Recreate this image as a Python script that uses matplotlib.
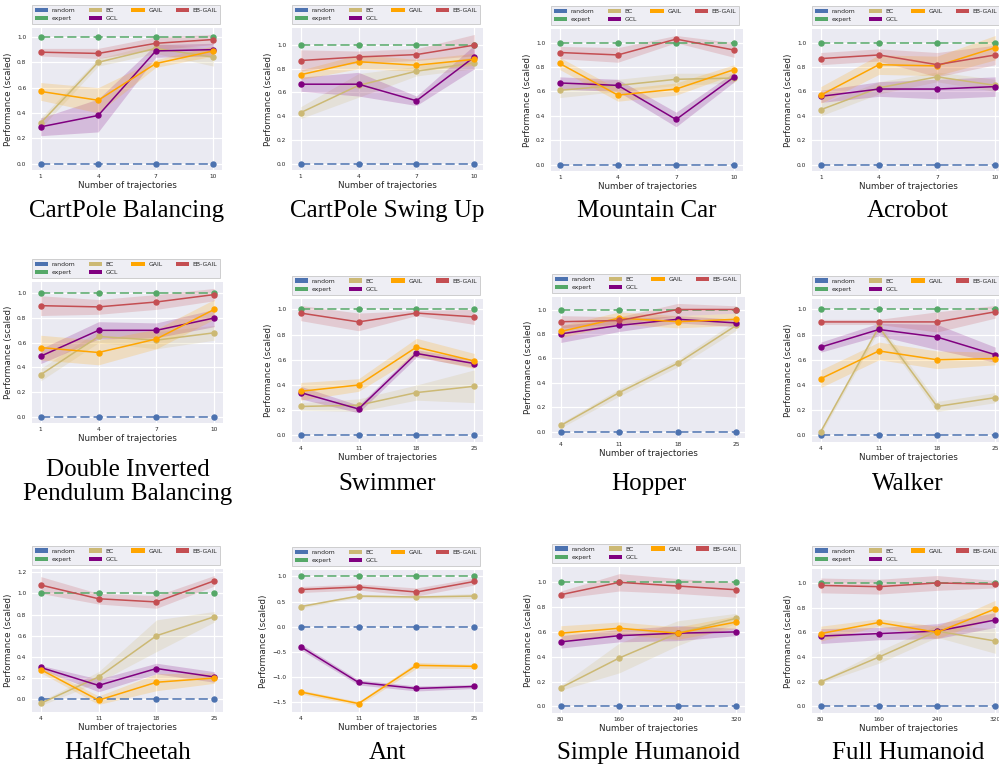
import matplotlib
matplotlib.use("Agg")
import matplotlib.pyplot as plt
from matplotlib.patches import Patch
import numpy as np

# ---------------- data ----------------
ENV_NAMES = ["CartPole Balancing", "CartPole Swing Up", "Mountain Car", "Acrobot",
             "Double Inverted\nPendulum Balancing", "Swimmer", "Hopper", "Walker",
             "HalfCheetah", "Ant", "Simple Humanoid", "Full Humanoid"]

X_CLASSIC = [1, 4, 7, 10]
X_MUJOCO = [4, 11, 18, 25]
X_HUMANOID = [80, 160, 240, 320]
X_VALUES = [X_CLASSIC] * 5 + [X_MUJOCO] * 5 + [X_HUMANOID] * 2

RANDOM_SCORE = 0.0
EXPERT_SCORE = 1.0

BC_MEAN = [[0.32, 0.80, 0.91, 0.84], [0.43, 0.66, 0.78, 0.85], [0.61, 0.65, 0.70, 0.71],
           [0.45, 0.63, 0.72, 0.65], [0.34, 0.65, 0.62, 0.68], [0.23, 0.24, 0.34, 0.39],
           [0.05, 0.32, 0.56, 0.87], [0.03, 0.86, 0.23, 0.30], [-0.04, 0.21, 0.60, 0.78],
           [0.40, 0.61, 0.59, 0.61], [0.15, 0.39, 0.59, 0.71], [0.20, 0.40, 0.61, 0.53]]
BC_ERR = [[0.04, 0.03, 0.04, 0.07], [0.05, 0.10, 0.04, 0.05], [0.06, 0.05, 0.05, 0.04],
          [0.05, 0.05, 0.04, 0.05], [0.05, 0.05, 0.07, 0.06], [0.03, 0.05, 0.06, 0.13],
          [0.02, 0.03, 0.03, 0.04], [0.02, 0.03, 0.04, 0.04], [0.02, 0.05, 0.15, 0.05],
          [0.03, 0.03, 0.03, 0.05], [0.02, 0.12, 0.10, 0.04], [0.01, 0.05, 0.05, 0.10]]

GAIL_MEAN = [[0.57, 0.50, 0.79, 0.89], [0.75, 0.86, 0.83, 0.88], [0.83, 0.57, 0.62, 0.78],
             [0.57, 0.82, 0.81, 0.96], [0.56, 0.52, 0.63, 0.87], [0.35, 0.40, 0.70, 0.59],
             [0.82, 0.93, 0.90, 0.92], [0.45, 0.67, 0.60, 0.61], [0.28, -0.01, 0.16, 0.20],
             [-1.30, -1.53, -0.77, -0.79], [0.59, 0.63, 0.59, 0.68], [0.59, 0.68, 0.60, 0.79]]
GAIL_ERR = [[0.07, 0.10, 0.03, 0.04], [0.04, 0.06, 0.05, 0.05], [0.05, 0.05, 0.05, 0.04],
            [0.07, 0.08, 0.08, 0.10], [0.10, 0.10, 0.08, 0.08], [0.07, 0.05, 0.07, 0.06],
            [0.05, 0.05, 0.05, 0.05], [0.07, 0.07, 0.07, 0.05], [0.03, 0.04, 0.08, 0.05],
            [0.04, 0.04, 0.06, 0.04], [0.06, 0.05, 0.05, 0.05], [0.06, 0.03, 0.05, 0.07]]

EBGAIL_MEAN = [[0.88, 0.87, 0.95, 0.98], [0.87, 0.90, 0.92, 1.00], [0.92, 0.90, 1.03, 0.94],
               [0.87, 0.90, 0.82, 0.90], [0.90, 0.89, 0.93, 0.99], [0.97, 0.90, 0.97, 0.94],
               [0.90, 0.91, 1.00, 1.00], [0.90, 0.90, 0.90, 0.98], [1.08, 0.95, 0.92, 1.12],
               [0.74, 0.79, 0.69, 0.90], [0.90, 1.00, 0.97, 0.94], [0.98, 0.97, 1.00, 0.99]]
EBGAIL_ERR = [[0.03, 0.04, 0.05, 0.04], [0.09, 0.05, 0.05, 0.09], [0.05, 0.06, 0.03, 0.06],
              [0.05, 0.05, 0.10, 0.08], [0.08, 0.06, 0.06, 0.05], [0.06, 0.07, 0.02, 0.06],
              [0.05, 0.03, 0.05, 0.03], [0.02, 0.02, 0.08, 0.05], [0.08, 0.05, 0.06, 0.05],
              [0.06, 0.06, 0.08, 0.07], [0.03, 0.07, 0.06, 0.06], [0.06, 0.06, 0.06, 0.03]]

GCL_MEAN = [[0.29, 0.38, 0.89, 0.90], [0.67, 0.67, 0.53, 0.90], [0.67, 0.65, 0.37, 0.72],
            [0.56, 0.62, 0.62, 0.64], [0.49, 0.70, 0.70, 0.80], [0.34, 0.21, 0.65, 0.57],
            [0.80, 0.87, 0.92, 0.89], [0.70, 0.84, 0.78, 0.64], [0.30, 0.13, 0.29, 0.21],
            [-0.40, -1.11, -1.23, -1.19], [0.52, 0.57, 0.59, 0.60], [0.57, 0.59, 0.61, 0.70]]
GCL_ERR = [[0.07, 0.13, 0.05, 0.05], [0.06, 0.10, 0.04, 0.10], [0.05, 0.05, 0.06, 0.04],
           [0.05, 0.06, 0.08, 0.08], [0.06, 0.07, 0.06, 0.07], [0.05, 0.03, 0.03, 0.03],
           [0.07, 0.05, 0.03, 0.03], [0.04, 0.05, 0.10, 0.06], [0.02, 0.06, 0.05, 0.05],
           [0.06, 0.05, 0.05, 0.04], [0.05, 0.05, 0.06, 0.03], [0.06, 0.05, 0.06, 0.06]]

LEGEND_LABELS = ["random", "expert", "BC", "GCL", "GAIL", "EB-GAIL"]

# ---------------- style ----------------
C_RANDOM = "#4C72B0"
C_EXPERT = "#55A868"
C_BC = "#CCB974"
C_GAIL = "#FFA500"
C_EBGAIL = "#C44E52"
C_GCL = "#800080"
COLORS = {"random": C_RANDOM, "expert": C_EXPERT, "BC": C_BC, "GCL": C_GCL,
          "GAIL": C_GAIL, "EB-GAIL": C_EBGAIL}
TXT = "#262626"

W, H = 999, 765
fig = plt.figure(figsize=(W / 100, H / 100), dpi=100)
fig.patch.set_facecolor("white")

# axes boxes in pixels: (left, top, right, bottom)
BOXES = [(32, 28, 222, 170), (292, 28, 483, 170), (551, 29, 743, 171), (812, 29, 1004, 171),
         (32, 282, 223, 423), (292, 299, 483, 442), (552, 297, 745, 438), (812, 299, 1004, 442),
         (32, 569, 223, 712), (292, 570, 483, 712), (552, 567, 745, 713), (812, 569, 1004, 713)]
TITLE_Y = [211, 211, 211, 211, 482, 484, 484, 484, 753, 753, 753, 753]

series = [("BC", BC_MEAN, BC_ERR), ("GCL", GCL_MEAN, GCL_ERR),
          ("GAIL", GAIL_MEAN, GAIL_ERR), ("EB-GAIL", EBGAIL_MEAN, EBGAIL_ERR)]

for i, name in enumerate(ENV_NAMES):
    l, t, r, b = BOXES[i]
    ax = fig.add_axes([l / W, 1 - b / H, (r - l) / W, (b - t) / H])
    ax.set_facecolor("#EAEAF2")
    for s in ax.spines.values():
        s.set_visible(False)
    ax.grid(True, color="white", linewidth=0.9)
    ax.set_axisbelow(True)
    x = np.array(X_VALUES[i])

    ax.plot(x, np.full(len(x), RANDOM_SCORE), color=C_RANDOM, lw=1.1, marker="o",
            ms=3.6, dashes=(6, 2.6))
    ax.plot(x, np.full(len(x), EXPERT_SCORE), color=C_EXPERT, lw=1.1, marker="o",
            ms=3.6, dashes=(6, 2.6))
    for lab, mean, err in series:
        m = np.array(mean[i])
        e = np.array(err[i])
        c = COLORS[lab]
        ax.fill_between(x, m - e, m + e, color=c, alpha=0.2, lw=0)
        ax.plot(x, m, color=c, lw=1.1, marker="o", ms=3.6)

    ax.set_xticks(x)
    ax.tick_params(axis="both", length=0, labelsize=4.2, labelcolor=TXT)
    ax.tick_params(axis="y", pad=4)
    ax.tick_params(axis="x", pad=3)
    ax.set_xlabel("Number of trajectories", fontsize=6.3, color=TXT, labelpad=1.5)
    ax.set_ylabel("Performance (scaled)", fontsize=6.3, color=TXT, labelpad=3)

    handles = [Patch(facecolor=COLORS[k], edgecolor="none") for k in LEGEND_LABELS]
    leg = ax.legend(handles, LEGEND_LABELS, ncol=4, loc="lower left",
                    bbox_to_anchor=(0.0, 1.03), borderaxespad=0, fontsize=4.4,
                    handlelength=2.2, handleheight=0.75, handletextpad=0.55,
                    columnspacing=2.2, borderpad=0.45, labelspacing=0.45,
                    frameon=True, fancybox=False)
    leg.get_frame().set_facecolor("#EAEAF2")
    leg.get_frame().set_edgecolor("#BBBBBB")
    leg.get_frame().set_linewidth(0.6)
    for txt in leg.get_texts():
        txt.set_color(TXT)

    cx = (l + min(r, 1004)) / 2
    fig.text(cx / W, 1 - TITLE_Y[i] / H, name, ha="center", va="center",
             fontsize=18, family="Liberation Serif", linespacing=1.12, color="black")

fig.savefig("out.png", dpi=100)
